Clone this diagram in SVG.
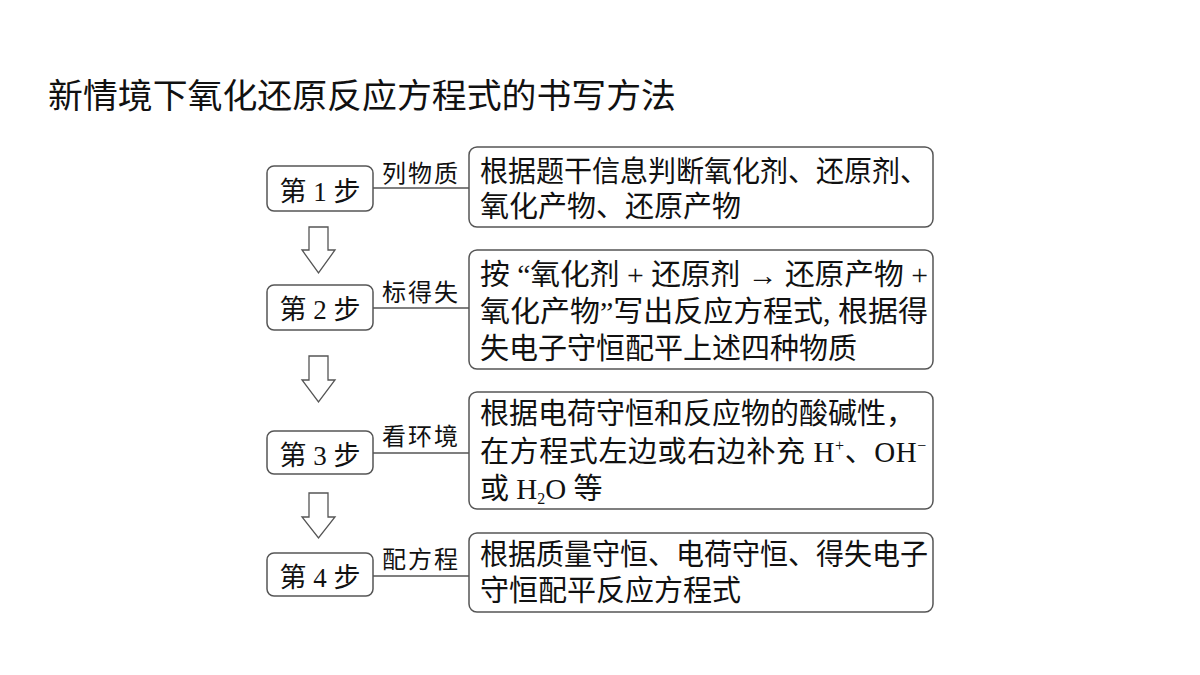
<svg xmlns="http://www.w3.org/2000/svg" width="1200" height="675" viewBox="0 0 1200 675">
<style>
text{font-family:"Liberation Serif","Noto Sans CJK SC",serif;fill:#111}
.title{font-size:34px}
.step{font-size:27px}
.lab{font-size:24px}
.body{font-size:29px}
.box{fill:#fff;stroke:#555;stroke-width:1.5}
.con{stroke:#555;stroke-width:1.5;fill:none}
.arr{fill:#fff;stroke:#555;stroke-width:1.3;stroke-linejoin:miter}
.sup{font-size:16px}
</style>
<rect width="1200" height="675" fill="#fff"/>
<text class="title" x="48" y="108" textLength="628" lengthAdjust="spacingAndGlyphs">新情境下氧化还原反应方程式的书写方法</text>

<g id="connectors">
<line class="con" x1="373" y1="188" x2="469" y2="188"/>
<line class="con" x1="373" y1="308" x2="469" y2="308"/>
<line class="con" x1="373" y1="453" x2="469" y2="453"/>
<line class="con" x1="373" y1="576" x2="469" y2="576"/>
<polygon class="arr" points="309,227 328,227 328,250 335,250 318.5,273 302,250 309,250"/>
<polygon class="arr" points="309,356 328,356 328,380 335,380 318.5,402 302,380 309,380"/>
<polygon class="arr" points="309,493 328,493 328,517 335,517 318.5,538 302,517 309,517"/>
<text class="lab" x="382" y="182" textLength="76">列物质</text>
<text class="lab" x="382" y="301" textLength="76">标得失</text>
<text class="lab" x="382" y="445" textLength="76">看环境</text>
<text class="lab" x="382" y="568" textLength="76">配方程</text>
</g>

<g id="step1">
<rect class="box" x="267" y="166" width="106" height="45" rx="7"/>
<text class="step" x="320" y="201" text-anchor="middle">第 1 步</text>
</g>
<g id="step2">
<rect class="box" x="267" y="285" width="106" height="45" rx="7"/>
<text class="step" x="320" y="319" text-anchor="middle">第 2 步</text>
</g>
<g id="step3">
<rect class="box" x="267" y="431" width="106" height="43" rx="7"/>
<text class="step" x="320" y="465" text-anchor="middle">第 3 步</text>
</g>
<g id="step4">
<rect class="box" x="267" y="553" width="106" height="43" rx="7"/>
<text class="step" x="320" y="587" text-anchor="middle">第 4 步</text>
</g>

<g id="desc1">
<rect class="box" x="469" y="147" width="464" height="80" rx="8"/>
<text class="body" x="480" y="182" textLength="448" lengthAdjust="spacingAndGlyphs">根据题干信息判断氧化剂、还原剂、</text>
<text class="body" x="480" y="217">氧化产物、还原产物</text>
</g>
<g id="desc2">
<rect class="box" x="469" y="250" width="464" height="119" rx="8"/>
<text class="body" x="480" y="285" textLength="448" lengthAdjust="spacingAndGlyphs">按 “氧化剂 + 还原剂 → 还原产物 +</text>
<text class="body" x="480" y="322" textLength="448" lengthAdjust="spacingAndGlyphs">氧化产物”写出反应方程式, 根据得</text>
<text class="body" x="480" y="359">失电子守恒配平上述四种物质</text>
</g>
<g id="desc3">
<rect class="box" x="469" y="392" width="464" height="117" rx="8"/>
<text class="body" x="480" y="424" textLength="435" lengthAdjust="spacingAndGlyphs">根据电荷守恒和反应物的酸碱性，</text>
<text class="body" x="480" y="462" style="letter-spacing:0.6px">在方程式左边或右边补充 H<tspan class="sup" dy="-11">+</tspan><tspan dy="11">、OH</tspan><tspan class="sup" dy="-11">−</tspan></text>
<text class="body" x="480" y="499">或 H<tspan class="sup" dy="5">2</tspan><tspan dy="-5">O 等</tspan></text>
</g>
<g id="desc4">
<rect class="box" x="469" y="533" width="464" height="79" rx="8"/>
<text class="body" x="480" y="565" textLength="448" lengthAdjust="spacingAndGlyphs">根据质量守恒、电荷守恒、得失电子</text>
<text class="body" x="480" y="601">守恒配平反应方程式</text>
</g>
</svg>
